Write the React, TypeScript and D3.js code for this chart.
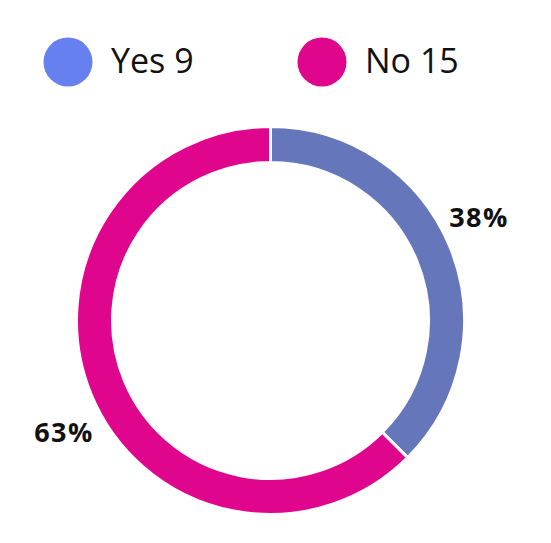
import React from "react";
import * as d3 from "d3";

const categories = ["Yes", "No"];
const values = [9, 15];
const percentLabels = ["38%", "63%"];
const arcColors = ["#6577BA", "#E0058D"];
const legendColors = ["#6680EF", "#E0058D"];

const W = 551;
const H = 543;
const cx = 270.5;
const cy = 320.5;
const outerR = 194;
const innerR = 158;

export default function App() {
  const pie = d3.pie<number>().sort(null).value((d) => d)(values);
  const arc = d3.arc<d3.PieArcDatum<number>>().innerRadius(innerR).outerRadius(outerR);
  const font = "'Segoe UI', 'Open Sans', 'Noto Sans', sans-serif";
  const legendX = [68, 322];
  const labelPos = [
    { x: 479, y: 227 },
    { x: 64, y: 442 },
  ];
  return (
    <svg
      width={W}
      height={H}
      style={{ position: "absolute", left: 0, top: 0, background: "#fff" }}
    >
      {categories.map((c, i) => (
        <g key={c}>
          <circle cx={legendX[i]} cy={62} r={24.5} fill={legendColors[i]} />
          <text
            x={legendX[i] + 43}
            y={73}
            fontFamily={font}
            fontSize={34}
            fill="#111"
          >
            {`${c} ${values[i]}`}
          </text>
        </g>
      ))}
      <g transform={`translate(${cx},${cy})`}>
        {pie.map((p, i) => (
          <path
            key={i}
            d={arc(p) || ""}
            fill={arcColors[i]}
            stroke="#fff"
            strokeWidth={3}
          />
        ))}
      </g>
      {percentLabels.map((l, i) => (
        <text
          key={l}
          x={labelPos[i].x}
          y={labelPos[i].y}
          textAnchor="middle"
          fontFamily={font}
          fontWeight="bold"
          fontSize={27}
          letterSpacing={1.5}
          fill="#111"
        >
          {l}
        </text>
      ))}
    </svg>
  );
}
